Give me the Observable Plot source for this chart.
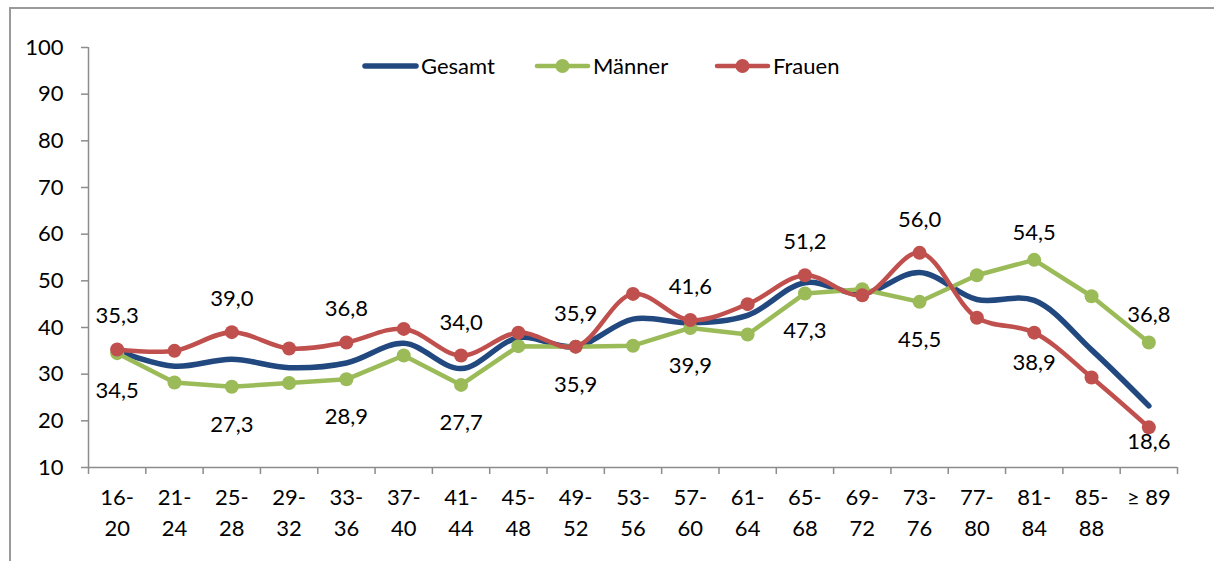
<!DOCTYPE html>
<html>
<head>
<meta charset="utf-8">
<script src="https://cdn.jsdelivr.net/npm/d3@7"></script>
<script src="https://cdn.jsdelivr.net/npm/@observablehq/plot@0.6"></script>
<style>
  html, body { margin: 0; padding: 0; background: #fff; }
  #wrap { position: relative; width: 1214px; height: 561px; overflow: hidden; font-family: Lato, "Open Sans", sans-serif; }
  #frame { position: absolute; left: 9px; top: 7px; right: 0; bottom: -10px; border-left: 2px solid #9a9a9a; border-top: 2px solid #9a9a9a; }
  #chart { position: absolute; left: 0; top: 0; }
  #legend { position: absolute; left: 0; top: 0; }
</style>
</head>
<body>
<div id="wrap"><div id="frame"></div><div id="chart"></div><svg id="legend" width="1214" height="100"></svg></div>
<script>
const categories = ["16-20","21-24","25-28","29-32","33-36","37-40","41-44","45-48","49-52","53-56","57-60","61-64","65-68","69-72","73-76","77-80","81-84","85-88","≥ 89"];
const xTickLabels = ["16-\n20","21-\n24","25-\n28","29-\n32","33-\n36","37-\n40","41-\n44","45-\n48","49-\n52","53-\n56","57-\n60","61-\n64","65-\n68","69-\n72","73-\n76","77-\n80","81-\n84","85-\n88","≥ 89"];
const gesamt  = [35.0, 31.7, 33.2, 31.4, 32.4, 36.6, 31.2, 37.8, 35.9, 41.8, 41.0, 42.6, 49.6, 47.2, 51.8, 46.0, 45.8, 35.2, 23.2];
const maenner = [34.5, 28.2, 27.3, 28.1, 28.9, 34.0, 27.7, 36.0, 35.9, 36.1, 39.9, 38.5, 47.3, 48.2, 45.5, 51.2, 54.5, 46.7, 36.8];
const frauen  = [35.3, 35.0, 39.0, 35.5, 36.8, 39.7, 34.0, 38.9, 35.9, 47.2, 41.6, 45.0, 51.2, 46.9, 56.0, 42.1, 38.9, 29.3, 18.6];
const seriesNames = ["Gesamt", "Männer", "Frauen"];
const yTicks = [10, 20, 30, 40, 50, 60, 70, 80, 90, 100];

const colors = {Gesamt: "#21487f", "Männer": "#9bbb59", Frauen: "#c0504d"};
const gray = "#8c8c8c";
const FS = 22;
const FONT = "Lato, 'Open Sans', sans-serif";
const idx = categories.map((_, i) => i);
const boundaries = d3.range(-0.5, categories.length, 1);
const fmt = v => v.toFixed(1).replace(".", ",");

const rows = s => idx.map(i => ({i, v: s[i]}));
const G = rows(gesamt), M = rows(maenner), F = rows(frauen);

// labels on every other category
const labeled = idx.filter(i => i % 2 === 0);
const fAbove = labeled.filter(i => frauen[i] >= maenner[i]);
const fBelow = labeled.filter(i => frauen[i] < maenner[i]);
const mAbove = labeled.filter(i => maenner[i] > frauen[i]);
const mBelow = labeled.filter(i => maenner[i] <= frauen[i]);
const low = v => v < 22.5;

const textOpts = {fontSize: FS, fill: "black"};

const chart = Plot.plot({
  width: 1214,
  height: 561,
  marginLeft: 88,
  marginRight: 37,
  marginTop: 47,
  marginBottom: 94,
  style: {fontFamily: FONT, fontSize: FS + "px", background: "transparent", color: "black", overflow: "visible"},
  x: {type: "linear", domain: [-0.5, categories.length - 0.5]},
  y: {domain: [10, 100]},
  marks: [
    Plot.ruleY([10], {stroke: gray, strokeWidth: 1.5}),
    Plot.ruleX([-0.5], {stroke: gray, strokeWidth: 1.5}),
    Plot.axisX({ticks: boundaries, tickSize: 7, stroke: gray, strokeWidth: 1.5, fill: "none", label: null, tickFormat: () => ""}),
    Plot.axisY({ticks: yTicks, tickSize: 7, tickPadding: 18, stroke: gray, strokeWidth: 1.5, fill: "black", fontSize: FS, label: null}),
    Plot.text(idx, {x: d => d, text: d => xTickLabels[d], frameAnchor: "bottom", lineAnchor: "top", dy: 15, lineHeight: 1.41, ...textOpts}),
    Plot.line(G, {x: "i", y: "v", stroke: colors.Gesamt, strokeWidth: 5.5, curve: "catmull-rom"}),
    Plot.line(M, {x: "i", y: "v", stroke: colors["Männer"], strokeWidth: 4.5}),
    Plot.dot(M, {x: "i", y: "v", r: 7, fill: colors["Männer"]}),
    Plot.line(F, {x: "i", y: "v", stroke: colors.Frauen, strokeWidth: 4.5, curve: "catmull-rom"}),
    Plot.dot(F, {x: "i", y: "v", r: 7, fill: colors.Frauen}),
    Plot.text(fAbove, {x: d => d, y: d => frauen[d], text: d => fmt(frauen[d]), dy: -33, ...textOpts}),
    Plot.text(fBelow.filter(d => !low(frauen[d])), {x: d => d, y: d => frauen[d], text: d => fmt(frauen[d]), dy: 30, ...textOpts}),
    Plot.text(fBelow.filter(d => low(frauen[d])), {x: d => d, frameAnchor: "bottom", text: d => fmt(frauen[d]), dy: -19, ...textOpts}),
    Plot.text(mAbove, {x: d => d, y: d => maenner[d], text: d => fmt(maenner[d]), dy: -27, ...textOpts}),
    Plot.text(mBelow, {x: d => d, y: d => maenner[d], text: d => fmt(maenner[d]), dy: 38, ...textOpts})
  ]
});
document.getElementById("chart").appendChild(chart);

// legend
const lg = d3.select("#legend");
const legendX = [365, 537, 717];
seriesNames.forEach((name, k) => {
  const x0 = legendX[k], y0 = 66;
  lg.append("line").attr("x1", x0).attr("x2", x0 + 51).attr("y1", y0).attr("y2", y0)
    .attr("stroke", colors[name]).attr("stroke-width", name === "Gesamt" ? 5.5 : 4.5).attr("stroke-linecap", "round");
  if (name !== "Gesamt") lg.append("circle").attr("cx", x0 + 25.5).attr("cy", y0).attr("r", 7).attr("fill", colors[name]);
  lg.append("text").attr("x", x0 + 56).attr("y", y0).attr("dy", "0.35em")
    .attr("font-family", FONT).attr("font-size", FS).attr("fill", "black").text(name);
});
</script>
</body>
</html>
